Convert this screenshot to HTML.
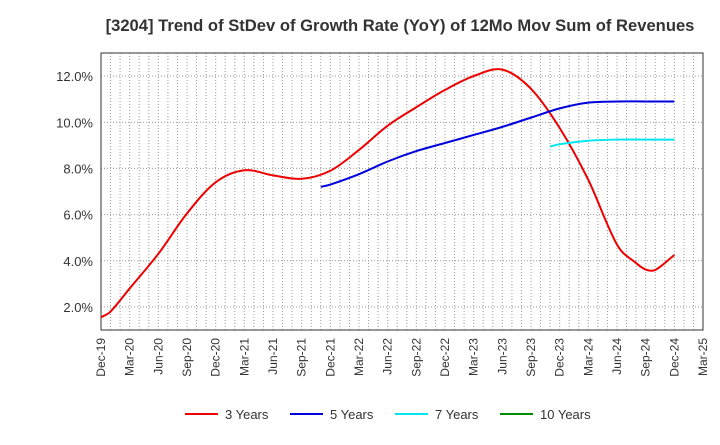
<!DOCTYPE html>
<html><head><meta charset="utf-8"><style>
body{margin:0;background:#fff;font-family:"Liberation Sans",sans-serif;}
</style></head><body>
<svg width="720" height="440" xmlns="http://www.w3.org/2000/svg" id="chart" font-family="Liberation Sans, sans-serif">
<text x="400" y="31" text-anchor="middle" font-size="16.6" font-weight="bold" fill="#333">[3204]  Trend of StDev of Growth Rate (YoY) of 12Mo Mov Sum of Revenues</text>
<g id="grid"></g><g id="axes"></g><g id="series"></g><g id="legend"></g>
</svg>
<script>
const months=63; // Dec-19 .. Mar-25
const xTickLabels=["Dec-19","Mar-20","Jun-20","Sep-20","Dec-20","Mar-21","Jun-21","Sep-21","Dec-21","Mar-22","Jun-22","Sep-22","Dec-22","Mar-23","Jun-23","Sep-23","Dec-23","Mar-24","Jun-24","Sep-24","Dec-24","Mar-25"];
const yTicks=[2,4,6,8,10,12];
const s3Months=[0,1,3,6,9,12,15,18,21,24,27,30,33,36,39,42,45,48,51,54,56,57,58,60];
const s3Vals=[1.55,1.8,2.8,4.3,6.05,7.4,7.92,7.7,7.55,7.9,8.8,9.85,10.65,11.4,12.0,12.28,11.45,9.75,7.5,4.7,3.9,3.62,3.6,4.25];
const s5Months=[23,24,27,30,33,36,39,42,45,48,51,54,57,60];
const s5Vals=[7.2,7.3,7.75,8.3,8.75,9.1,9.45,9.8,10.2,10.6,10.85,10.9,10.9,10.9];
const s7Months=[47,48,51,54,57,60];
const s7Vals=[8.95,9.05,9.2,9.25,9.25,9.25];
const L=101,R=703,T=53,B=330,ymin=1,ymax=13;
const xs=m=>L+(R-L)*m/months, ys=v=>B-(B-T)*(v-ymin)/(ymax-ymin);
const NS="http://www.w3.org/2000/svg";
function mk(t,a,p){const e=document.createElementNS(NS,t);for(const k in a)e.setAttribute(k,a[k]);p.appendChild(e);return e;}
const grid=document.getElementById('grid'),axes=document.getElementById('axes'),ser=document.getElementById('series'),leg=document.getElementById('legend');
for(let m=1;m<months;m++){const g=mk('line',{x1:xs(m),x2:xs(m),y1:T,y2:B,stroke:'#999','stroke-dasharray':'1,2','stroke-width':1},grid);

}
yTicks.forEach(v=>{const g=mk('line',{x1:L,x2:R,y1:ys(v),y2:ys(v),stroke:'#999','stroke-dasharray':'1,2'},grid);


const t=mk('text',{x:L-8,y:ys(v)+5,'text-anchor':'end','font-size':13,fill:'#333'},axes);t.textContent=v.toFixed(1)+'%';

});
const fr=mk('rect',{x:L,y:T,width:R-L,height:B-T,fill:'none',stroke:'#333'},axes);


xTickLabels.forEach((l,i)=>{const x=xs(i*3);const t=mk('text',{x:x+4,y:B+8,'text-anchor':'end','font-size':12,fill:'#333',transform:`rotate(-90 ${x+4} ${B+8})`},axes);t.textContent=l;

});
function path(ms,vs){const p=ms.map((m,i)=>[xs(m),ys(vs[i])]);let d=`M${p[0][0]},${p[0][1]}`;
for(let i=0;i<p.length-1;i++){const p0=p[i-1]||p[i],p1=p[i],p2=p[i+1],p3=p[i+2]||p2;
const h=p2[0]-p1[0];
const t1=(p2[1]-p0[1])/(p2[0]-p0[0]||1), t2=(p3[1]-p1[1])/(p3[0]-p1[0]||1);
d+=` C${p1[0]+h/3},${p1[1]+t1*h/3} ${p2[0]-h/3},${p2[1]-t2*h/3} ${p2[0]},${p2[1]}`;}return d;}
[[s3Months,s3Vals,'#ee0000','series-3-years'],[s5Months,s5Vals,'#0000dd','series-5-years'],[s7Months,s7Vals,'#00e5ee','series-7-years']].forEach(([m,v,c,n])=>{
const e=mk('path',{d:path(m,v),fill:'none',stroke:c,'stroke-width':2},ser);

});
[['3 Years','#ee0000',185],['5 Years','#0000dd',290],['7 Years','#00e5ee',395],['10 Years','#008800',500]].forEach(([l,c,x])=>{
const ln=mk('line',{x1:x,x2:x+33,y1:414,y2:414,stroke:c,'stroke-width':2},leg);


const t=mk('text',{x:x+40,y:419,'font-size':13,fill:'#333'},leg);t.textContent=l;

});
</script>
</body></html>
